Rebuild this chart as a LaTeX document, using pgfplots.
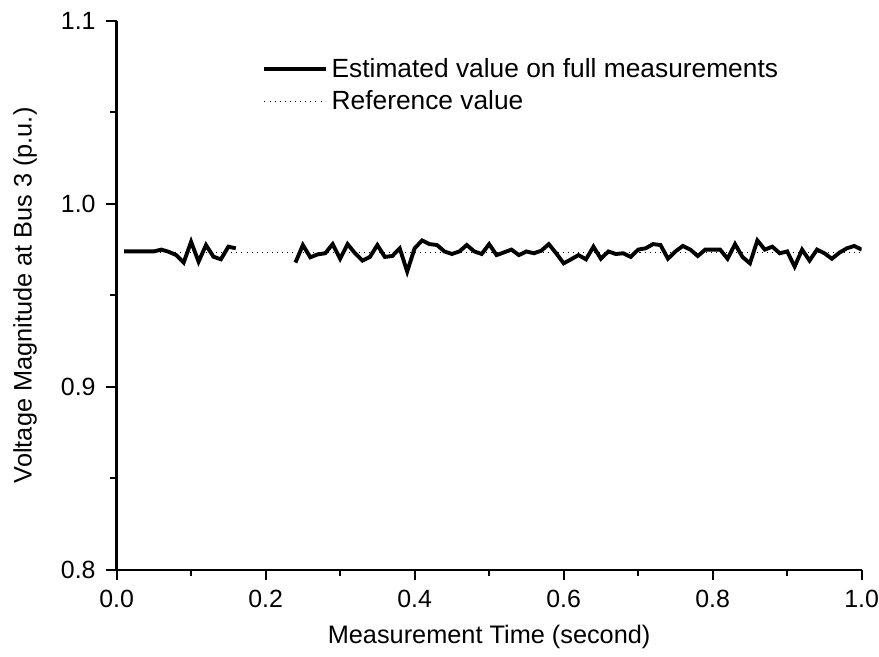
\documentclass[border=0pt]{standalone}
\usepackage{fontspec}
\setmainfont{Liberation Sans}
\usepackage{pgfplots}
\pgfplotsset{compat=1.18}

\pgfplotstableread{
x y
0.01 0.9740
0.02 0.9740
0.03 0.9740
0.04 0.9740
0.05 0.9740
0.06 0.9750
0.07 0.9738
0.08 0.9720
0.09 0.9679
0.10 0.9793
0.11 0.9684
0.12 0.9775
0.13 0.9711
0.14 0.9697
0.15 0.9766
0.16 0.9757
0.20 nan
0.24 0.9679
0.25 0.9775
0.26 0.9708
0.27 0.9724
0.28 0.9730
0.29 0.9780
0.30 0.9700
0.31 0.9780
0.32 0.9730
0.33 0.9690
0.34 0.9710
0.35 0.9775
0.36 0.9710
0.37 0.9715
0.38 0.9757
0.39 0.9630
0.40 0.9757
0.41 0.9800
0.42 0.9780
0.43 0.9775
0.44 0.9740
0.45 0.9726
0.46 0.9740
0.47 0.9775
0.48 0.9740
0.49 0.9726
0.50 0.9780
0.51 0.9720
0.52 0.9735
0.53 0.9750
0.54 0.9720
0.55 0.9740
0.56 0.9730
0.57 0.9744
0.58 0.9780
0.59 0.9730
0.60 0.9675
0.61 0.9697
0.62 0.9720
0.63 0.9697
0.64 0.9766
0.65 0.9700
0.66 0.9740
0.67 0.9726
0.68 0.9730
0.69 0.9710
0.70 0.9750
0.71 0.9757
0.72 0.9780
0.73 0.9775
0.74 0.9700
0.75 0.9740
0.76 0.9770
0.77 0.9750
0.78 0.9715
0.79 0.9750
0.80 0.9750
0.81 0.9750
0.82 0.9700
0.83 0.9780
0.84 0.9710
0.85 0.9675
0.86 0.9800
0.87 0.9750
0.88 0.9766
0.89 0.9730
0.90 0.9740
0.91 0.9657
0.92 0.9750
0.93 0.9690
0.94 0.9750
0.95 0.9730
0.96 0.9700
0.97 0.9733
0.98 0.9757
0.99 0.9770
1.00 0.9750
}\estdata

\pgfplotstableread{
x y
0.01 0.9735
1.00 0.9735
}\refdata

\begin{document}
\begin{tikzpicture}
\begin{axis}[
  width=365pt, height=269pt,
  scale only axis,
  axis lines*=left,
  axis line style={line width=1.2pt},
  xmin=0, xmax=1, ymin=0.8, ymax=1.1,
  xtick={0,0.2,...,1.0},
  ytick={0.8,0.9,1.0,1.1},
  minor x tick num=1, minor y tick num=1,
  tick align=outside,
  major tick length=5pt, minor tick length=3pt,
  tick style={line width=0.9pt, black},
  /pgf/number format/assume math mode=true,
  /pgf/number format/fixed, /pgf/number format/fixed zerofill,
  /pgf/number format/precision=1,
  ticklabel style={font=\fontsize{12.2}{14}\selectfont},
  xticklabel style={inner xsep=0pt, inner ysep=4.5pt},
  yticklabel style={inner xsep=5.1pt, inner ysep=6pt},
  label style={font=\fontsize{12.4}{14}\selectfont},
  xlabel={Measurement Time (second)},
  ylabel={Voltage Magnitude at Bus 3 (p.u.)},
  xlabel style={inner ysep=4pt},
  ylabel style={inner ysep=6.5pt},
  unbounded coords=jump,
  legend style={at={(0.187,0.948)}, anchor=north west, draw=none, fill=none,
    font=\fontsize{12.9}{14}\selectfont, row sep=1.2pt},
  legend cell align=left,
  legend image code/.code={\draw[#1] (0pt,0pt) -- (30pt,0pt);},
]
\addplot[black, line width=1.9pt] table[x=x,y=y] {\estdata};
\addlegendentry{Estimated value on full measurements}
\addplot[black, line width=0.5pt, dotted] table[x=x,y=y] {\refdata};
\addlegendentry{Reference value}
\end{axis}
\end{tikzpicture}
\end{document}
